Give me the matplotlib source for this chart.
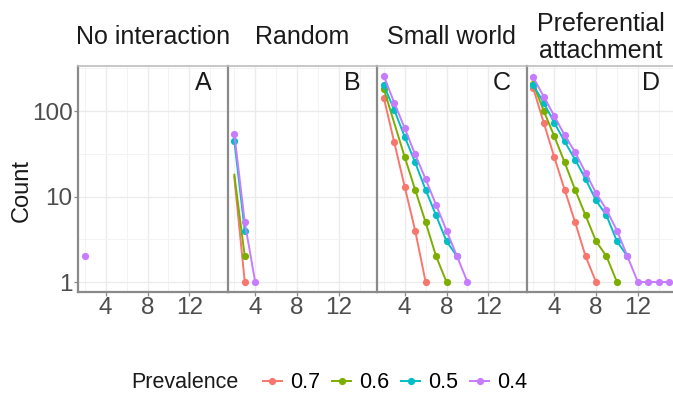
import numpy as np
import matplotlib
matplotlib.use("Agg")
import matplotlib.pyplot as plt
from matplotlib.lines import Line2D
from matplotlib.ticker import NullFormatter

plt.rcParams['font.family'] = ['Liberation Sans', 'DejaVu Sans']

titles = ["No interaction", "Random", "Small world", "Preferential\nattachment"]
letters = ["A", "B", "C", "D"]
prevalence = ["0.7", "0.6", "0.5", "0.4"]
colors = ["#F8766D", "#7CAE00", "#00BFC4", "#C77CFF"]

# degree counts per panel, one (x, count) pair per prevalence level
no_interaction = {
    "0.4": ([2], [2]),
}
random_net = {
    "0.7": ([2, 3], [17, 1]),
    "0.6": ([2, 3], [18, 2]),
    "0.5": ([2, 3], [45, 4]),
    "0.4": ([2, 3, 4], [54, 5, 1]),
}
small_world = {
    "0.7": ([2, 3, 4, 5, 6], [143, 43, 13, 4, 1]),
    "0.6": ([2, 4, 5, 6, 7, 8], [181, 29, 12, 5, 2, 1]),
    "0.5": ([2, 3, 4, 5, 6, 7, 8, 9], [200, 103, 50, 25, 12, 6, 3, 2]),
    "0.4": ([2, 3, 4, 5, 6, 7, 8, 9, 10], [257, 125, 63, 31, 16, 8, 4, 2, 1]),
}
pref_attach = {
    "0.7": ([2, 3, 4, 5, 6, 7, 8], [184, 73, 29, 12, 5, 2, 1]),
    "0.6": ([2, 3, 4, 5, 6, 7, 8, 9, 10], [207, 100, 51, 25, 12, 6, 3, 2, 1]),
    "0.5": ([2, 3, 4, 5, 6, 7, 8, 9, 10, 11], [200, 125, 73, 44, 27, 16, 9, 6, 3, 2]),
    "0.4": ([2, 3, 4, 5, 6, 7, 8, 9, 10, 11, 12, 13, 14, 15],
            [248, 147, 88, 52, 33, 19, 11, 7, 4, 2, 1, 1, 1, 1]),
}
panels = [no_interaction, random_net, small_world, pref_attach]

W, H = 673, 400
fig = plt.figure(figsize=(W / 100, H / 100), dpi=100)

panel_w = 149.5
left0 = 78
bottom_px, top_px = 292, 66

for i, data in enumerate(panels):
    left = left0 + i * panel_w
    ax = fig.add_axes([left / W, 1 - bottom_px / H, panel_w / W, (bottom_px - top_px) / H])
    ax.set_yscale('log')
    ax.set_xlim(1.35, 15.65)
    ax.set_ylim(0.764, 336)

    ax.set_xticks([4, 8, 12], labels=["4", "8", "12"])
    ax.set_xticks([2, 6, 10, 14], minor=True)
    ax.set_yticks([1, 10, 100], labels=["1", "10", "100"])
    ax.set_yticks([10 ** 0.5, 10 ** 1.5, 10 ** 2.5], minor=True)
    ax.yaxis.set_minor_formatter(NullFormatter())
    ax.xaxis.set_minor_formatter(NullFormatter())

    ax.grid(True, which='major', color='#EBEBEB', lw=1.0)
    ax.grid(True, which='minor', color='#F3F3F3', lw=0.7)
    ax.set_axisbelow(True)

    ax.tick_params(which='major', length=3, width=0.9, color='#888888',
                   labelsize=17.5, labelcolor='#4D4D4D', pad=0.8)
    ax.tick_params(which='minor', length=0)
    if i > 0:
        ax.tick_params(axis='y', which='both', left=False, labelleft=False)

    for side in ['left', 'bottom']:
        ax.spines[side].set_color('#8A8A8A')
        ax.spines[side].set_linewidth(1.6)
    for side in ['top', 'right']:
        ax.spines[side].set_color('#BDBDBD')
        ax.spines[side].set_linewidth(1.2)

    for lvl, col in zip(prevalence, colors):
        if lvl not in data:
            continue
        x, y = data[lvl]
        ax.plot(x, y, '-', color=col, lw=1.4, zorder=3)
        if data is random_net and lvl in ("0.7", "0.6"):
            ax.plot(x[1:], y[1:], 'o', color=col, ms=5.2, mew=0, zorder=3)
        else:
            ax.plot(x, y, 'o', color=col, ms=5.2, mew=0, zorder=3)

    ax.text(1 - 16 / panel_w, 1 - 16.5 / (bottom_px - top_px), letters[i],
            transform=ax.transAxes, ha='right', va='center', fontsize=18, color='#1A1A1A')

    fig.text((left + panel_w / 2) / W, 1 - 37.5 / H, titles[i], ha='center', va='center',
             fontsize=18, color='#1A1A1A', linespacing=1.15)

    if i == 0:
        ax.set_ylabel("Count", fontsize=17, color='#1A1A1A')
        ax.yaxis.set_label_coords((33 - left0) / panel_w, 0.45)

fig.text(131 / W, 1 - 383 / H, "Prevalence", ha='left', va='center',
         fontsize=15.5, color='#1A1A1A')
handles = [Line2D([], [], color=c, lw=1.4, marker='o', ms=5.2, mew=0) for c in colors]
fig.legend(handles, prevalence, ncol=4, loc='center left',
           bbox_to_anchor=(263 / W, 1 - 383 / H), frameon=False, fontsize=15.5,
           handlelength=0.88, handletextpad=0.37, columnspacing=0.56,
           borderaxespad=0, borderpad=0)

fig.savefig("out.png", dpi=100)
